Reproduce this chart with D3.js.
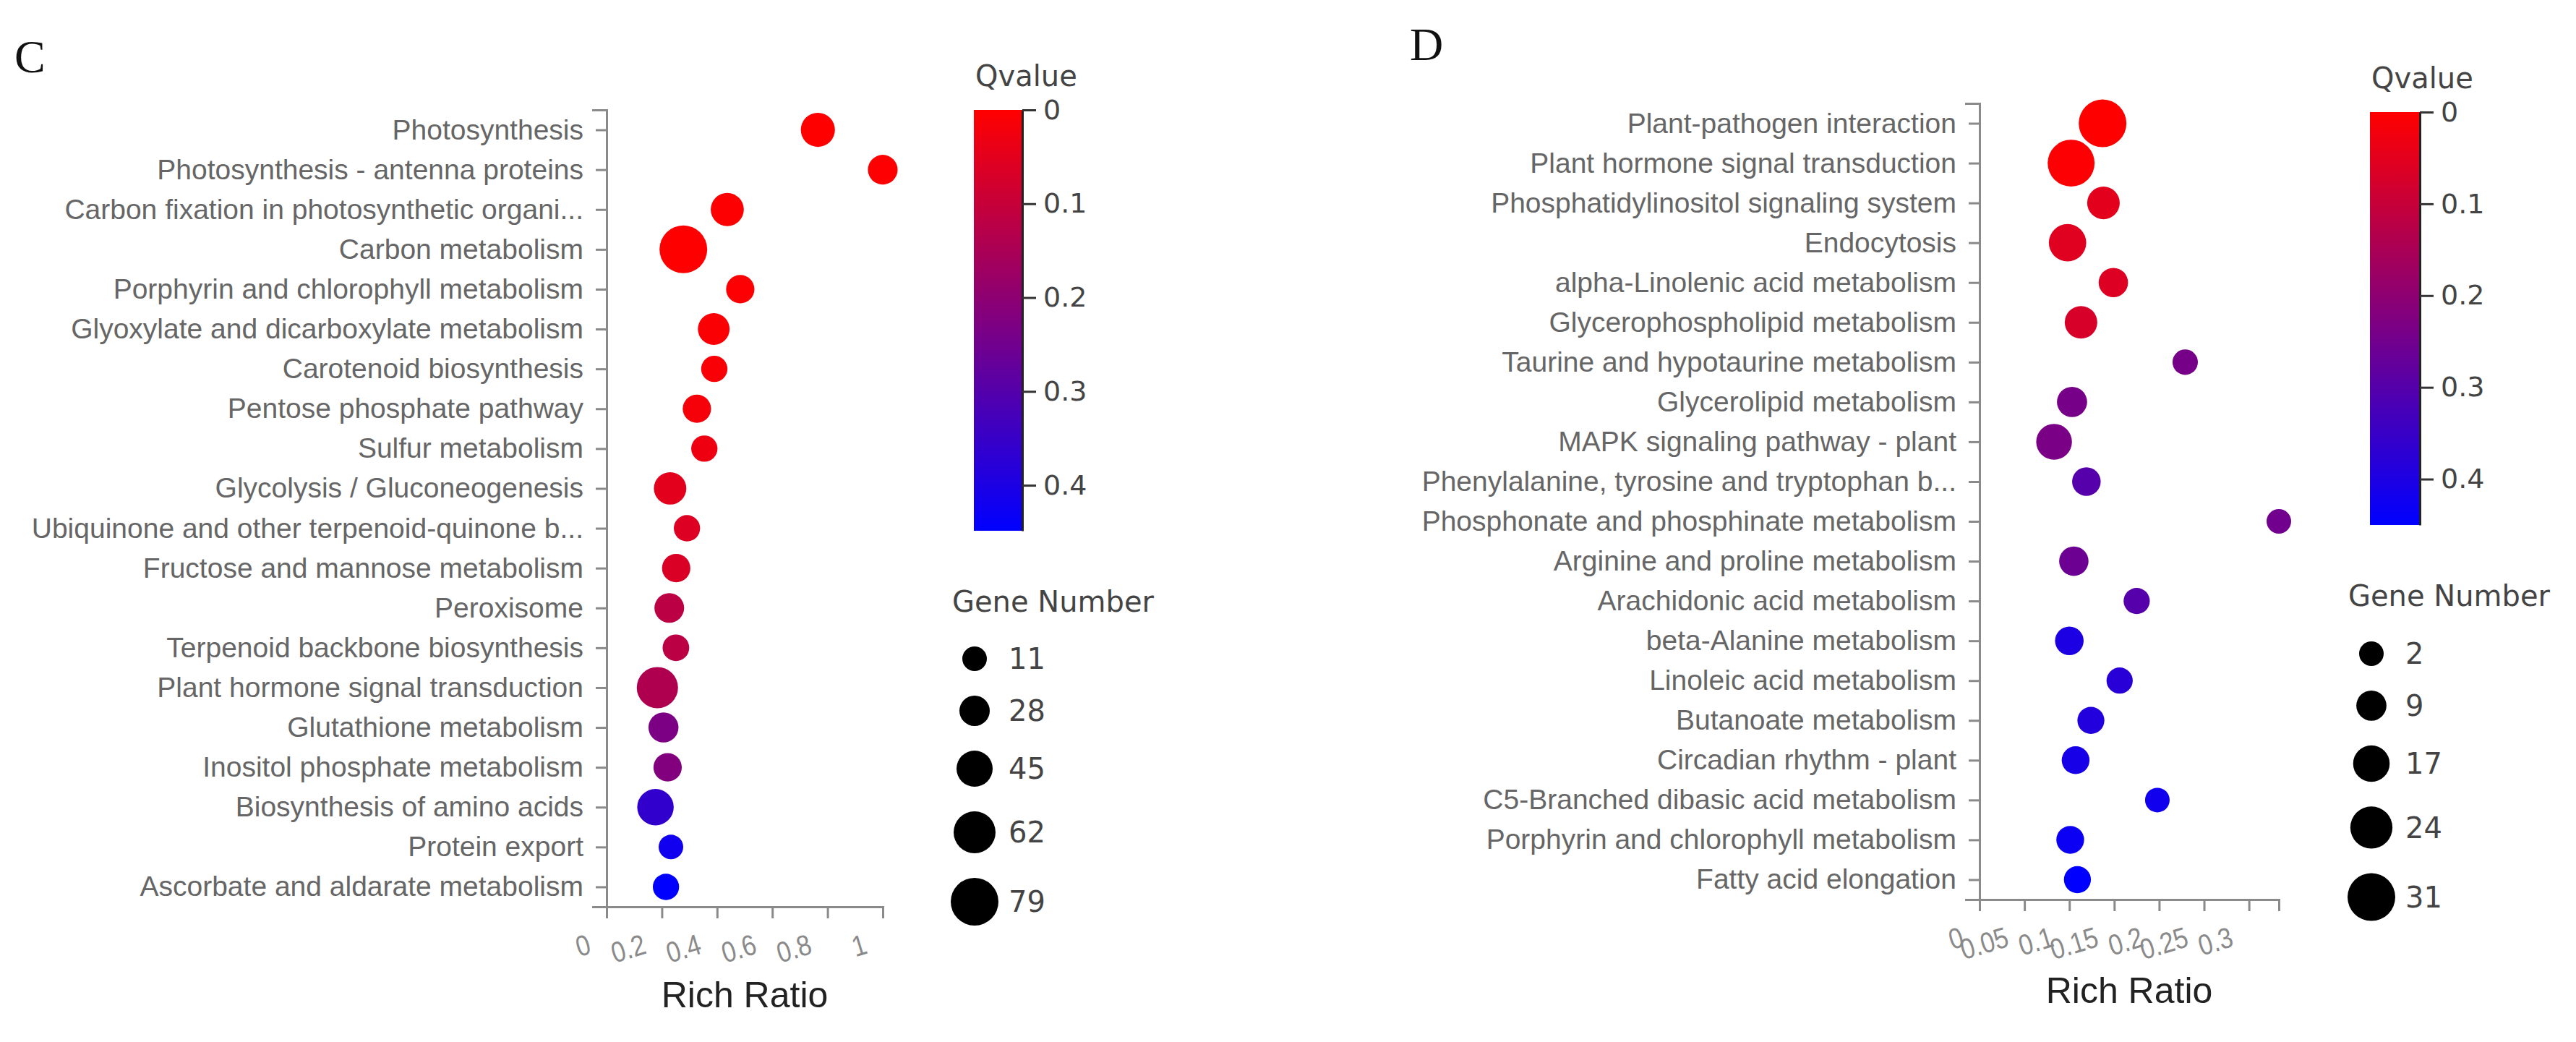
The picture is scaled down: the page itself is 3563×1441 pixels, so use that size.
<!DOCTYPE html>
<html><head><meta charset="utf-8">
<script src="https://cdn.jsdelivr.net/npm/d3@7"></script>
<style>body{margin:0;background:#fff;} svg{display:block;}</style>
</head><body>
<svg id="chart" width="3563" height="1441"></svg>
<script>
// ---------- Panel C data ----------
const cPathways = ["Photosynthesis","Photosynthesis - antenna proteins","Carbon fixation in photosynthetic organi...","Carbon metabolism","Porphyrin and chlorophyll metabolism","Glyoxylate and dicarboxylate metabolism","Carotenoid biosynthesis","Pentose phosphate pathway","Sulfur metabolism","Glycolysis / Gluconeogenesis","Ubiquinone and other terpenoid-quinone b...","Fructose and mannose metabolism","Peroxisome","Terpenoid backbone biosynthesis","Plant hormone signal transduction","Glutathione metabolism","Inositol phosphate metabolism","Biosynthesis of amino acids","Protein export","Ascorbate and aldarate metabolism"];
const cRichRatio = [0.765, 1.0, 0.437, 0.278, 0.484, 0.388, 0.39, 0.327, 0.354, 0.23, 0.291, 0.252, 0.227, 0.251, 0.184, 0.206, 0.221, 0.177, 0.233, 0.215];
const cQvalue = [0, 0.002, 0.003, 0, 0.005, 0.008, 0.01, 0.015, 0.03, 0.05, 0.06, 0.065, 0.12, 0.12, 0.14, 0.23, 0.22, 0.36, 0.42, 0.4485];
const cGeneNumber = [39, 26, 36, 79, 22, 32, 16, 22, 16, 34, 16, 22, 26, 17, 60, 27, 22, 46, 11, 16];
const cXTicks = [0, 0.2, 0.4, 0.6, 0.8, 1];
const cSizeLegend = [11, 28, 45, 62, 79];

// ---------- Panel D data ----------
const dPathways = ["Plant-pathogen interaction","Plant hormone signal transduction","Phosphatidylinositol signaling system","Endocytosis","alpha-Linolenic acid metabolism","Glycerophospholipid metabolism","Taurine and hypotaurine metabolism","Glycerolipid metabolism","MAPK signaling pathway - plant","Phenylalanine, tyrosine and tryptophan b...","Phosphonate and phosphinate metabolism","Arginine and proline metabolism","Arachidonic acid metabolism","beta-Alanine metabolism","Linoleic acid metabolism","Butanoate metabolism","Circadian rhythm - plant","C5-Branched dibasic acid metabolism","Porphyrin and chlorophyll metabolism","Fatty acid elongation"];
const dRichRatio = [0.137, 0.102, 0.138, 0.098, 0.149, 0.113, 0.229, 0.103, 0.083, 0.119, 0.3333, 0.105, 0.175, 0.100, 0.156, 0.124, 0.107, 0.198, 0.101, 0.109];
const dQvalue = [0, 0.005, 0.05, 0.055, 0.06, 0.07, 0.24, 0.24, 0.235, 0.3, 0.25, 0.26, 0.3, 0.4, 0.38, 0.39, 0.41, 0.42, 0.43, 0.45];
const dGeneNumber = [31, 30, 12, 18, 8, 12, 3, 9, 16, 7, 2, 8, 4, 7, 4, 5, 6, 2, 6, 5];
const dXTicks = [0, 0.05, 0.1, 0.15, 0.2, 0.25, 0.3];
const dSizeLegend = [2, 9, 17, 24, 31];

const qTicks = [0, 0.1, 0.2, 0.3, 0.4];

const svg = d3.select("#chart");
svg.append("rect").attr("width", 3563).attr("height", 1441).attr("fill", "#fff");
const defs = svg.append("defs");

const SANS = "'Liberation Sans', Arial, sans-serif";
const WIDE = "'DejaVu Sans', Verdana, sans-serif";
const AXIS = "#8a8a8a";

function drawPanel(cfg) {
  const g = svg.append("g");
  g.append("text").attr("x", cfg.letterX).attr("y", cfg.letterY)
    .attr("font-family", "'Liberation Serif', 'Times New Roman', serif")
    .attr("font-size", 64).attr("fill", "#111").text(cfg.letter);

  const x = d3.scaleLinear().domain([0, d3.max(cfg.rich)]).range([cfg.x0, cfg.x1]);
  const y = d3.scalePoint().domain(cfg.pathways).range([cfg.yTop, cfg.yBottom]).padding(0.5);
  const qmax = d3.max(cfg.q);
  const color = d3.scaleLinear().domain([0, qmax]).range(["#ff0000", "#0000ff"]).interpolate(d3.interpolateRgb);
  const r = d3.scaleLinear().domain(d3.extent(cfg.genes)).range([17, 33]);

  // Y axis
  const ya = g.append("g").attr("transform", `translate(${cfg.x0},0)`)
    .call(d3.axisLeft(y).tickSize(15).tickSizeOuter(20).tickPadding(17));
  ya.selectAll("path,line").attr("stroke", AXIS).attr("stroke-width", 3);
  ya.selectAll("text").attr("font-family", SANS).attr("font-size", 39).attr("fill", "#666");

  // X axis
  const xa = g.append("g").attr("transform", `translate(0,${cfg.yBottom})`)
    .call(d3.axisBottom(x).tickValues(cfg.xTicks).tickFormat(d => String(+d.toFixed(2))).tickSize(16).tickSizeOuter(16));
  xa.selectAll("path,line").attr("stroke", AXIS).attr("stroke-width", 3);
  xa.selectAll(".tick text")
    .attr("x", 0).attr("y", 0).attr("dy", 0)
    .attr("text-anchor", "end")
    .attr("transform", "translate(-20,64) rotate(-17) scale(0.86,1)")
    .attr("font-family", SANS).attr("font-size", 40).attr("fill", "#8a8a8a");

  g.append("text").attr("x", (cfg.x0 + cfg.x1) / 2).attr("y", cfg.titleY)
    .attr("text-anchor", "middle").attr("font-family", SANS).attr("font-size", 50)
    .attr("fill", "#222").text("Rich Ratio");

  // Points
  const data = cfg.pathways.map((p, i) => ({ p, rich: cfg.rich[i], q: cfg.q[i], n: cfg.genes[i] }));
  g.append("g").selectAll("circle").data(data).join("circle")
    .attr("cx", d => x(d.rich)).attr("cy", d => y(d.p))
    .attr("r", d => r(d.n)).attr("fill", d => color(d.q));

  // Colorbar
  const gradId = "grad" + cfg.letter;
  const grad = defs.append("linearGradient").attr("id", gradId)
    .attr("x1", 0).attr("y1", 0).attr("x2", 0).attr("y2", 1);
  d3.range(0, 1.0001, 0.1).forEach(t => {
    grad.append("stop").attr("offset", t).attr("stop-color", color(t * qmax));
  });
  g.append("rect").attr("x", cfg.barX).attr("y", cfg.barTop)
    .attr("width", cfg.barW).attr("height", cfg.barBottom - cfg.barTop)
    .attr("fill", `url(#${gradId})`);
  const qs = d3.scaleLinear().domain([0, qmax]).range([cfg.barTop, cfg.barBottom]);
  const qa = g.append("g").attr("transform", `translate(${cfg.barX + cfg.barW},0)`)
    .call(d3.axisRight(qs).tickValues(qTicks).tickFormat(d => String(+d.toFixed(2))).tickSize(19).tickSizeOuter(0).tickPadding(10));
  qa.select(".domain").attr("stroke", "#222").attr("stroke-width", 3);
  qa.selectAll(".tick line").attr("stroke", "#333").attr("stroke-width", 3);
  qa.selectAll("text").attr("font-family", WIDE).attr("font-size", 38).attr("fill", "#444");

  g.append("text").attr("x", cfg.barX + 2).attr("y", cfg.barTop - 33)
    .attr("font-family", WIDE).attr("font-size", 40).attr("fill", "#444").text("Qvalue");

  // Size legend
  g.append("text").attr("x", cfg.barX - 30).attr("y", cfg.barBottom + 112)
    .attr("font-family", WIDE).attr("font-size", 40).attr("fill", "#444").text("Gene Number");
  let cy = cfg.legendY0;
  const items = cfg.sizeLegend.map((v, i) => {
    if (i > 0) cy += r(cfg.sizeLegend[i - 1]) + r(v) + 34;
    return { v, cy };
  });
  const lg = g.append("g");
  lg.selectAll("circle").data(items).join("circle")
    .attr("cx", cfg.legendX).attr("cy", d => d.cy).attr("r", d => r(d.v)).attr("fill", "#000");
  lg.selectAll("text").data(items).join("text")
    .attr("x", cfg.legendX + 47).attr("y", d => d.cy).attr("dy", "0.36em")
    .attr("font-family", WIDE).attr("font-size", 40).attr("fill", "#444").text(d => d.v);
}

drawPanel({
  letter: "C", letterX: 20, letterY: 100,
  pathways: cPathways, rich: cRichRatio, q: cQvalue, genes: cGeneNumber,
  xTicks: cXTicks, sizeLegend: cSizeLegend,
  x0: 839, x1: 1221, yTop: 152, yBottom: 1254, titleY: 1393,
  barX: 1347, barW: 67, barTop: 152, barBottom: 734,
  legendX: 1348, legendY0: 911
});
drawPanel({
  letter: "D", letterX: 1950, letterY: 83,
  pathways: dPathways, rich: dRichRatio, q: dQvalue, genes: dGeneNumber,
  xTicks: dXTicks, sizeLegend: dSizeLegend,
  x0: 2738, x1: 3152, yTop: 143, yBottom: 1244, titleY: 1387,
  barX: 3278, barW: 69, barTop: 155, barBottom: 726,
  legendX: 3280, legendY0: 904
});
</script>
</body></html>
